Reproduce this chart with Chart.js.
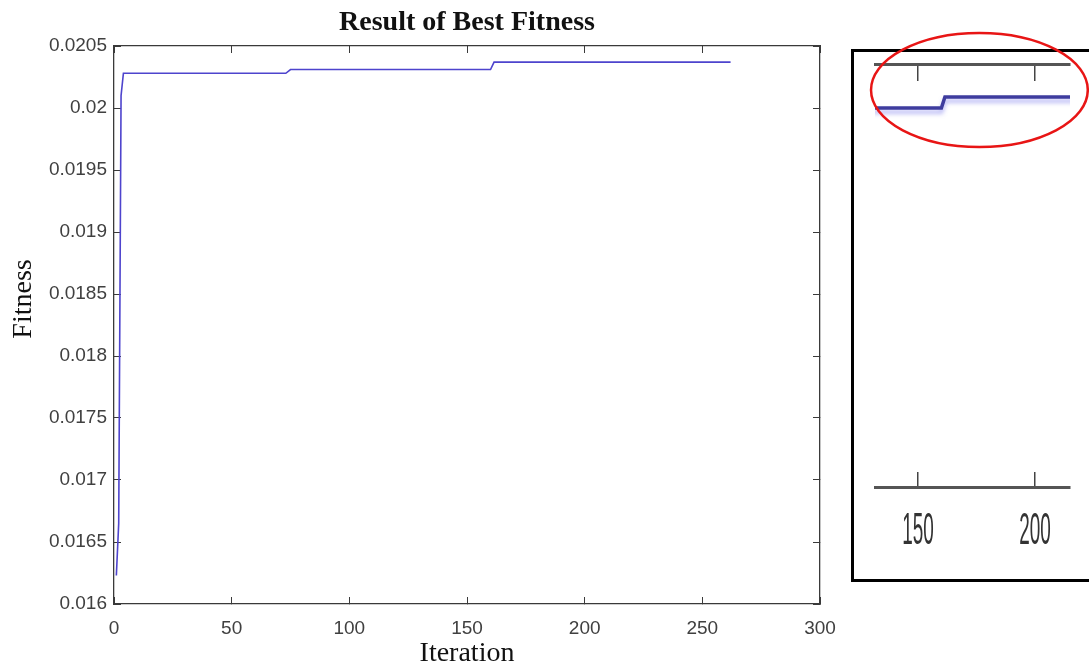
<!DOCTYPE html>
<html><head><meta charset="utf-8">
<script src="https://cdn.jsdelivr.net/npm/chart.js@4.4.1/dist/chart.umd.min.js"></script>
<style>
html,body{margin:0;padding:0;background:#fff;overflow:hidden;width:1089px;height:668px;}
#main{position:absolute;left:0;top:0;width:934px;height:668px;}
#box{position:absolute;left:851px;top:49px;width:400px;height:527px;border:3px solid #000;}
#inset{position:absolute;left:855px;top:28px;width:234px;height:550px;}
</style></head><body>
<div id="main"><canvas id="c1"></canvas></div>
<div id="box"></div>
<div id="inset"><canvas id="c2"></canvas></div>
<script>
// ---- data ----
const iterations = [1, 2, 3, 4, 73, 75, 160, 161.5, 262];
const fitness    = [0.01623, 0.01665, 0.0201, 0.02028, 0.02028, 0.02031, 0.02031, 0.02037, 0.02037];
const xTicks = [0, 50, 100, 150, 200, 250, 300];
const xTickLabels = ['0', '50', '100', '150', '200', '250', '300'];
const yTicks = [0.016, 0.0165, 0.017, 0.0175, 0.018, 0.0185, 0.019, 0.0195, 0.02, 0.0205];
const yTickLabels = ['0.016', '0.0165', '0.017', '0.0175', '0.018', '0.0185', '0.019', '0.0195', '0.02', '0.0205'];
const insetXTicks = [150, 200];
const insetXTickLabels = ['150', '200'];
const insetRange = {xMin: 131.6, xMax: 215, yMin: 0.018243, yMax: 0.02055};
const insetHighlight = {x: [129.9, 222.6], y: [0.020097, 0.020719]};

const points = iterations.map((x, i) => ({x: x, y: fitness[i]}));
const setTicks = arr => s => { s.ticks = arr.map(v => ({value: v})); };
const axisColor = '#3a3a3a';
const tickFont = {family: 'Liberation Sans, Arial, sans-serif', size: 19};
const serif = 'Liberation Serif, Times New Roman, serif';

// y-axis label drawn beside the y scale (slightly above centre, as in the reference)
const yLabelPlugin = {
  id: 'yLabel',
  afterDraw(chart) {
    const ctx = chart.ctx, a = chart.chartArea;
    ctx.save();
    ctx.translate(24, (a.top + a.bottom) / 2 - 26);
    ctx.rotate(-Math.PI / 2);
    ctx.font = '28px ' + serif;
    ctx.fillStyle = '#111';
    ctx.textAlign = 'center';
    ctx.textBaseline = 'middle';
    ctx.fillText('Fitness', 0, 0);
    ctx.restore();
  }
};

new Chart(document.getElementById('c1'), {
  type: 'line',
  data: {datasets: [{data: points, borderColor: 'rgb(78,68,205)', borderWidth: 1.6, pointRadius: 0, fill: false, tension: 0}]},
  plugins: [yLabelPlugin],
  options: {
    responsive: true, maintainAspectRatio: false, animation: false,
    layout: {padding: {left: 0, right: 114, top: 0, bottom: 0}},
    plugins: {legend: {display: false}, tooltip: {enabled: false}, title: {display: false}},
    scales: {
      x: {type: 'linear', position: 'bottom', min: 0, max: 300,
        afterBuildTicks: setTicks(xTicks), afterFit: s => { s.height = 64; },
        grid: {drawOnChartArea: false, drawTicks: true, tickLength: -7, color: axisColor, lineWidth: 1},
        border: {display: true, color: axisColor, width: 1.3},
        ticks: {padding: 20, font: tickFont, color: '#404040', maxRotation: 0, autoSkip: false,
          callback: (v, i) => xTickLabels[i]},
        title: {display: true, text: 'Iteration', color: '#111', font: {family: serif, size: 28, lineHeight: 1}, padding: {top: 0, bottom: 0.5}}
      },
      x2: {type: 'linear', position: 'top', min: 0, max: 300,
        afterBuildTicks: setTicks(xTicks), afterFit: s => { s.height = 46; },
        grid: {drawOnChartArea: false, drawTicks: true, tickLength: -7, color: axisColor, lineWidth: 1},
        border: {display: true, color: axisColor, width: 1.3},
        ticks: {display: false},
        title: {display: true, text: 'Result of Best Fitness', color: '#111',
          font: {family: serif, size: 28, weight: 'bold', lineHeight: 1}, padding: {top: 8.5, bottom: 0}}
      },
      y: {type: 'linear', position: 'left', min: 0.016, max: 0.0205,
        afterBuildTicks: setTicks(yTicks), afterFit: s => { s.width = 114; },
        grid: {drawOnChartArea: false, drawTicks: true, tickLength: -7, color: axisColor, lineWidth: 1},
        border: {display: true, color: axisColor, width: 1.3},
        ticks: {padding: 14, font: tickFont, color: '#404040', autoSkip: false,
          callback: (v, i) => yTickLabels[i]}
      },
      y2: {type: 'linear', position: 'right', min: 0.016, max: 0.0205,
        afterBuildTicks: setTicks(yTicks), afterFit: s => { s.width = 0; },
        grid: {drawOnChartArea: false, drawTicks: true, tickLength: -7, color: axisColor, lineWidth: 1},
        border: {display: true, color: axisColor, width: 1.3},
        ticks: {display: false}
      }
    }
  }
});

// ---- inset (magnified crop) ----
const insetPlugin = {
  id: 'insetDecor',
  beforeDatasetsDraw(chart) {
    const ctx = chart.ctx;
    ctx.save();
    ctx.shadowColor = 'rgba(110,110,235,0.5)';
    ctx.shadowBlur = 4;
    ctx.shadowOffsetY = 4;
  },
  afterDatasetsDraw(chart) { chart.ctx.restore(); },
  afterDraw(chart) {
    const ctx = chart.ctx, sx = chart.scales.x, sy = chart.scales.y;
    // condensed tick labels under the bottom axis
    ctx.save();
    ctx.fillStyle = '#333';
    ctx.font = '44px Liberation Sans, Arial, sans-serif';
    ctx.textAlign = 'center';
    ctx.textBaseline = 'middle';
    insetXTicks.forEach((v, i) => {
      ctx.save();
      ctx.translate(sx.getPixelForValue(v), sx.top + 45);
      ctx.scale(0.43, 1);
      ctx.fillText(insetXTickLabels[i], 0, 0);
      ctx.restore();
    });
    ctx.restore();
    // red highlight ellipse
    const x1 = sx.getPixelForValue(insetHighlight.x[0]), x2 = sx.getPixelForValue(insetHighlight.x[1]);
    const y1 = sy.getPixelForValue(insetHighlight.y[1]), y2 = sy.getPixelForValue(insetHighlight.y[0]);
    ctx.save();
    ctx.strokeStyle = '#e81515';
    ctx.lineWidth = 2.5;
    ctx.beginPath();
    ctx.ellipse((x1 + x2) / 2, (y1 + y2) / 2, (x2 - x1) / 2, (y2 - y1) / 2, 0, 0, Math.PI * 2);
    ctx.stroke();
    ctx.restore();
  }
};

new Chart(document.getElementById('c2'), {
  type: 'line',
  data: {datasets: [{data: points, borderColor: '#3e3c9e', borderWidth: 3.5, pointRadius: 0, fill: false, tension: 0}]},
  plugins: [insetPlugin],
  options: {
    responsive: true, maintainAspectRatio: false, animation: false,
    layout: {padding: {left: 20, right: 19, top: 36, bottom: 0}},
    plugins: {legend: {display: false}, tooltip: {enabled: false}},
    scales: {
      x: {type: 'linear', position: 'bottom', min: insetRange.xMin, max: insetRange.xMax,
        afterBuildTicks: setTicks(insetXTicks), afterFit: s => { s.height = 91; },
        grid: {drawOnChartArea: false, drawTicks: true, tickLength: -15, color: '#444', lineWidth: 1.5},
        border: {display: true, color: '#555', width: 3},
        ticks: {display: false}
      },
      x2: {type: 'linear', position: 'top', min: insetRange.xMin, max: insetRange.xMax,
        afterBuildTicks: setTicks(insetXTicks), afterFit: s => { s.height = 0; },
        grid: {drawOnChartArea: false, drawTicks: true, tickLength: -17, color: '#444', lineWidth: 1.5},
        border: {display: true, color: '#555', width: 3},
        ticks: {display: false}
      },
      y: {display: false, min: insetRange.yMin, max: insetRange.yMax}
    }
  }
});
</script>
</body></html>
